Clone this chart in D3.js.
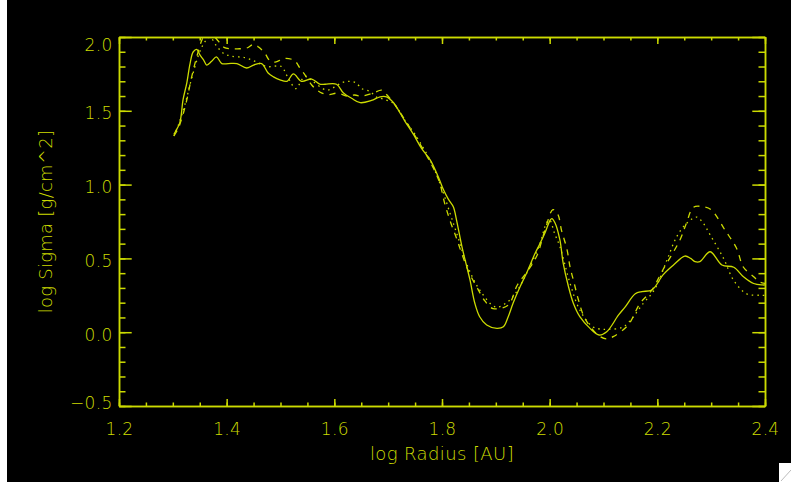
<!DOCTYPE html>
<html>
<head>
<meta charset="utf-8">
<script src="https://cdn.jsdelivr.net/npm/d3@7"></script>
<style>
  body { margin: 0; background: #fff; }
  svg { display: block; }
</style>
</head>
<body>
<svg id="chart"></svg>
<script>
var WIDTH = 791;
var HEIGHT = 482;
var COLOR = '#ccdb00';
var FONT = '"DejaVu Sans", sans-serif';

// plot box (IDL style frame)
var LEFT = 119, RIGHT = 765, TOP = 37, BOTTOM = 406;

var xTicks = [1.2, 1.4, 1.6, 1.8, 2.0, 2.2, 2.4];
var yTicks = [-0.5, 0.0, 0.5, 1.0, 1.5, 2.0];

// solid line
var solidR = [1.302, 1.305, 1.313, 1.319, 1.326, 1.332, 1.338, 1.345, 1.35, 1.357, 1.363, 1.372, 1.381, 1.391,
  1.403, 1.419, 1.437, 1.45, 1.465, 1.477, 1.487, 1.499, 1.512, 1.524, 1.539, 1.558, 1.573, 1.583, 1.604,
  1.617, 1.632, 1.648, 1.669, 1.685, 1.697, 1.71, 1.719, 1.731, 1.747, 1.762, 1.778, 1.793, 1.803, 1.812,
  1.821, 1.827, 1.837, 1.846, 1.852, 1.861, 1.87, 1.883, 1.902, 1.914, 1.923, 1.932, 1.945, 1.957, 1.973,
  1.982, 1.991, 2.001, 2.004, 2.01, 2.019, 2.025, 2.035, 2.044, 2.056, 2.075, 2.092, 2.106, 2.128, 2.14,
  2.159, 2.171, 2.19, 2.211, 2.23, 2.251, 2.262, 2.27, 2.279, 2.298, 2.32, 2.342, 2.36, 2.379, 2.395, 2.4];
var solidS = [1.34, 1.36, 1.42, 1.575, 1.69, 1.82, 1.9, 1.915, 1.88, 1.845, 1.81, 1.835, 1.865, 1.82,
  1.82, 1.82, 1.79, 1.81, 1.82, 1.756, 1.73, 1.71, 1.70, 1.75, 1.70, 1.715, 1.68, 1.68, 1.68,
  1.62, 1.585, 1.555, 1.57, 1.595, 1.595, 1.555, 1.505, 1.43, 1.34, 1.245, 1.167, 1.053, 0.963, 0.90,
  0.85, 0.76, 0.58, 0.444, 0.354, 0.196, 0.105, 0.049, 0.026, 0.037, 0.105, 0.196, 0.308, 0.40, 0.535,
  0.60, 0.67, 0.76, 0.77, 0.74, 0.625, 0.47, 0.308, 0.196, 0.105, 0.026, -0.019, 0.003, 0.117, 0.17,
  0.26, 0.275, 0.286, 0.39, 0.455, 0.516, 0.50, 0.478, 0.478, 0.545, 0.455, 0.44, 0.376, 0.33, 0.32, 0.32];

// dashed line
var dashedR = [1.302, 1.31, 1.323, 1.335, 1.344, 1.354, 1.362, 1.372, 1.385, 1.395, 1.406, 1.42, 1.437, 1.45,
  1.46, 1.471, 1.48, 1.49, 1.508, 1.526, 1.536, 1.546, 1.558, 1.568, 1.577, 1.589, 1.607, 1.623, 1.638,
  1.65, 1.672, 1.688, 1.697, 1.703, 1.72, 1.75, 1.78, 1.795, 1.805, 1.815, 1.827, 1.837, 1.85, 1.867,
  1.88, 1.895, 1.923, 1.94, 1.96, 1.976, 1.992, 2.006, 2.015, 2.022, 2.032, 2.038, 2.045, 2.053, 2.063,
  2.075, 2.09, 2.105, 2.118, 2.146, 2.168, 2.19, 2.21, 2.242, 2.254, 2.267, 2.285, 2.30, 2.326, 2.347,
  2.36, 2.379, 2.39, 2.4];
var dashedS = [1.33, 1.38, 1.53, 1.73, 1.86, 1.98, 2.03, 2.02, 1.97, 1.93, 1.92, 1.92, 1.925, 1.95,
  1.93, 1.89, 1.84, 1.83, 1.855, 1.84, 1.79, 1.74, 1.675, 1.64, 1.62, 1.61, 1.62, 1.60, 1.607,
  1.60, 1.62, 1.64, 1.61, 1.585, 1.50, 1.33, 1.14, 1.02, 0.873, 0.755, 0.636, 0.53, 0.406, 0.29,
  0.21, 0.16, 0.184, 0.32, 0.42, 0.516, 0.70, 0.83, 0.80, 0.69, 0.564, 0.44, 0.34, 0.225, 0.112,
  0.04, -0.02, -0.045, -0.03, 0.05, 0.196, 0.286, 0.42, 0.625, 0.738, 0.846, 0.85, 0.83, 0.69, 0.57,
  0.44, 0.376, 0.34, 0.33];

// dotted line
var dottedR = [1.302, 1.31, 1.323, 1.335, 1.35, 1.36, 1.369, 1.381, 1.394, 1.409, 1.434, 1.453, 1.474, 1.502,
  1.51, 1.518, 1.528, 1.546, 1.56, 1.586, 1.60, 1.614, 1.626, 1.64, 1.651, 1.667, 1.677, 1.69, 1.71,
  1.73, 1.75, 1.78, 1.80, 1.815, 1.83, 1.845, 1.87, 1.90, 1.92, 1.936, 1.96, 1.982, 1.994, 2.0,
  2.009, 2.019, 2.038, 2.056, 2.08, 2.097, 2.11, 2.137, 2.174, 2.195, 2.218, 2.236, 2.255, 2.273, 2.285,
  2.298, 2.323, 2.342, 2.366, 2.39, 2.4];
var dottedS = [1.33, 1.40, 1.55, 1.72, 1.90, 1.97, 2.0, 1.94, 1.89, 1.87, 1.86, 1.835, 1.80, 1.80,
  1.75, 1.70, 1.65, 1.735, 1.70, 1.64, 1.66, 1.69, 1.70, 1.69, 1.65, 1.63, 1.595, 1.58, 1.55,
  1.44, 1.34, 1.15, 0.97, 0.805, 0.64, 0.47, 0.286, 0.17, 0.20, 0.26, 0.42, 0.60, 0.74, 0.76,
  0.67, 0.58, 0.33, 0.15, 0.037, 0.02, 0.02, 0.037, 0.196, 0.29, 0.49, 0.647, 0.74, 0.78, 0.74,
  0.66, 0.50, 0.35, 0.26, 0.25, 0.25];

var svg = d3.select('#chart')
  .attr('width', WIDTH)
  .attr('height', HEIGHT);

// black plotting window (left strip stays white)
svg.append('rect')
  .attr('x', 7).attr('y', 0)
  .attr('width', WIDTH - 7).attr('height', HEIGHT)
  .attr('fill', '#000');

var x = d3.scaleLinear().domain([1.2, 2.4]).range([LEFT, RIGHT]);
var y = d3.scaleLinear().domain([-0.5, 2.0]).range([BOTTOM, TOP]);

var fmt = d3.format('.1f');
var minus = function(d) { return fmt(d).replace('-', '\u2212'); };

function styleAxis(g) {
  g.attr('color', COLOR)
    .attr('font-family', FONT)
    .attr('font-weight', 200)
    .attr('font-size', 17);
  g.selectAll('line, path').attr('stroke-width', 1.5);
  g.selectAll('text').attr('letter-spacing', 0.3);
}

// minor ticks first, majors on top
svg.append('g').attr('transform', 'translate(0,' + BOTTOM + ')')
  .call(d3.axisBottom(x).ticks(24).tickSize(-3.5).tickSizeOuter(0).tickFormat(''))
  .call(styleAxis);
svg.append('g').attr('transform', 'translate(0,' + TOP + ')')
  .call(d3.axisTop(x).ticks(24).tickSize(-3.5).tickSizeOuter(0).tickFormat(''))
  .call(styleAxis);
svg.append('g').attr('transform', 'translate(' + LEFT + ',0)')
  .call(d3.axisLeft(y).ticks(25).tickSize(-6.5).tickSizeOuter(0).tickFormat(''))
  .call(styleAxis);
svg.append('g').attr('transform', 'translate(' + RIGHT + ',0)')
  .call(d3.axisRight(y).ticks(25).tickSize(-6.5).tickSizeOuter(0).tickFormat(''))
  .call(styleAxis);

svg.append('g').attr('transform', 'translate(0,' + BOTTOM + ')')
  .call(d3.axisBottom(x).tickValues(xTicks).tickSize(-7).tickSizeOuter(0).tickPadding(17).tickFormat(fmt))
  .call(styleAxis);

svg.append('g').attr('transform', 'translate(0,' + TOP + ')')
  .call(d3.axisTop(x).tickValues(xTicks).tickSize(-7).tickSizeOuter(0).tickFormat(''))
  .call(styleAxis);

var yAxis = svg.append('g').attr('transform', 'translate(' + LEFT + ',0)')
  .call(d3.axisLeft(y).tickValues(yTicks).tickSize(-12.7).tickSizeOuter(0).tickPadding(6.5).tickFormat(minus))
  .call(styleAxis);

svg.append('g').attr('transform', 'translate(' + RIGHT + ',0)')
  .call(d3.axisRight(y).tickValues(yTicks).tickSize(-12.7).tickSizeOuter(0).tickFormat(''))
  .call(styleAxis);

// IDL nudges the end labels inside the frame
yAxis.selectAll('.tick text')
  .attr('dy', null)
  .attr('y', function(d) {
    var base = Math.max(TOP + 13, Math.min(BOTTOM + 2, y(d) + 8));
    return base - y(d);
  });

// axis titles
svg.append('text')
  .attr('x', (LEFT + RIGHT) / 2)
  .attr('y', 460)
  .attr('text-anchor', 'middle')
  .attr('fill', COLOR)
  .attr('font-family', FONT)
  .attr('font-weight', 200)
  .attr('font-size', 18)
  .attr('letter-spacing', 0.4)
  .text('log Radius [AU]');

svg.append('text')
  .attr('transform', 'translate(52,' + (TOP + BOTTOM) / 2 + ') rotate(-90)')
  .attr('text-anchor', 'middle')
  .attr('fill', COLOR)
  .attr('font-family', FONT)
  .attr('font-weight', 200)
  .attr('font-size', 18)
  .attr('letter-spacing', 0.25)
  .text('log Sigma [g/cm^2]');

// curves, clipped to the frame
svg.append('clipPath').attr('id', 'clip')
  .append('rect')
  .attr('x', LEFT).attr('y', TOP)
  .attr('width', RIGHT - LEFT).attr('height', BOTTOM - TOP);

var line = d3.line()
  .x(function(d) { return x(d[0]); })
  .y(function(d) { return y(d[1]); })
  .curve(d3.curveCatmullRom.alpha(0.5));

var series = [
  { r: solidR, s: solidS, dash: null },
  { r: dashedR, s: dashedS, dash: '6,6' },
  { r: dottedR, s: dottedS, dash: '1.5,4' }
];

svg.append('g')
  .attr('clip-path', 'url(#clip)')
  .selectAll('path')
  .data(series)
  .enter()
  .append('path')
  .attr('d', function(d) { return line(d3.zip(d.r, d.s)); })
  .attr('fill', 'none')
  .attr('stroke', COLOR)
  .attr('stroke-width', 1.3)
  .attr('stroke-dasharray', function(d) { return d.dash; });

// little window resize grip in the corner
svg.append('rect')
  .attr('x', 779).attr('y', 463)
  .attr('width', 12).attr('height', 19)
  .attr('fill', '#fff');
svg.append('line')
  .attr('x1', 781).attr('y1', 481)
  .attr('x2', 791).attr('y2', 470)
  .attr('stroke', '#bbb');
</script>
</body>
</html>
